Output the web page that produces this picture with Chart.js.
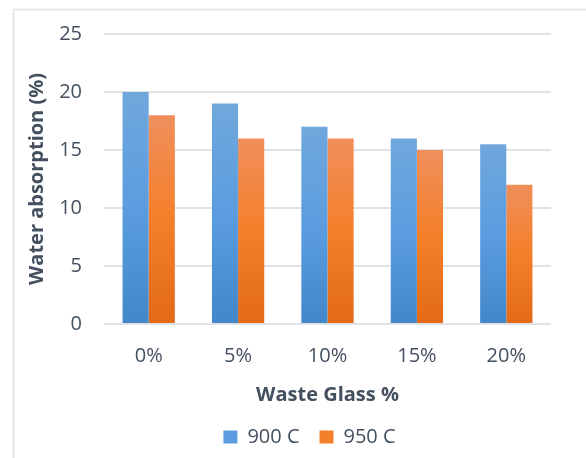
<!DOCTYPE html>
<html>
<head>
<meta charset="utf-8">
<script src="https://cdn.jsdelivr.net/npm/chart.js@4"></script>
<style>
  html, body { margin: 0; padding: 0; background: #fff; }
  #wrap { width: 586px; height: 458px; position: relative; }
</style>
</head>
<body>
<div id="wrap"><canvas id="c" width="586" height="458"></canvas></div>
<script>
const categories = ['0%', '5%', '10%', '15%', '20%'];
const series900 = [20, 19, 17, 16, 15.5];
const series950 = [18, 16, 16, 15, 12];
const seriesNames = ['900 C', '950 C'];
const yTicks = [0, 5, 10, 15, 20, 25];

const textColor = '#44505f';
const gridColor = '#dfe2e7';
const FONT = '"Open Sans", Lato, sans-serif';

const palettes = [
  ['#70a7dc', '#5b9de0', '#4287c9'],
  ['#f08f5c', '#f47f29', '#e26a18']
];

// Vertical gradient spanning each individual bar, top to baseline
function barGradient(ctx) {
  const chart = ctx.chart;
  const area = chart.chartArea;
  if (!area || ctx.type !== 'data') return palettes[ctx.datasetIndex][1];
  const ys = chart.scales.y;
  const top = ys.getPixelForValue(ctx.raw);
  const bottom = ys.getPixelForValue(0);
  const p = palettes[ctx.datasetIndex];
  const g = chart.ctx.createLinearGradient(0, top, 0, bottom);
  g.addColorStop(0, p[0]);
  g.addColorStop(0.5, p[1]);
  g.addColorStop(1, p[2]);
  return g;
}

// Light frame around the whole chart, running off the right and bottom edges
const framePlugin = {
  id: 'frame',
  beforeDraw(chart) {
    const c = chart.ctx;
    c.save();
    c.fillStyle = '#ffffff';
    c.fillRect(0, 0, chart.width, chart.height);
    c.strokeStyle = '#dde1e6';
    c.lineWidth = 1.5;
    c.strokeRect(13.5, 9.5, 600, 480);
    c.restore();
  }
};

// Centre the legend under the frame rather than under the padded layout box
const legendShift = {
  id: 'legendShift',
  afterLayout(chart) {
    if (chart.legend) {
      chart.legend.left += 25;
      chart.legend.right += 25;
    }
  }
};

new Chart(document.getElementById('c'), {
  type: 'bar',
  data: {
    labels: categories,
    datasets: [
      { label: seriesNames[0], data: series900, backgroundColor: barGradient },
      { label: seriesNames[1], data: series950, backgroundColor: barGradient }
    ]
  },
  options: {
    responsive: false,
    animation: false,
    devicePixelRatio: 1,
    layout: { padding: { left: 18, right: 35, top: 22, bottom: 1 } },
    datasets: {
      bar: { categoryPercentage: 0.585, barPercentage: 1.0, borderWidth: 0 }
    },
    scales: {
      x: {
        grid: { display: false, drawTicks: false },
        border: { display: false },
        ticks: { color: textColor, font: { family: FONT, size: 20 }, padding: 20 },
        title: {
          display: true, text: 'Waste Glass %', color: textColor,
          font: { family: FONT, size: 20, weight: 'bold' }, padding: { top: 0, bottom: 0 }
        },
        afterFit(scale) { scale.height = 83; }
      },
      y: {
        min: 0, max: 25,
        afterBuildTicks(scale) { scale.ticks = yTicks.map(v => ({ value: v })); },
        grid: { color: gridColor, lineWidth: 2, drawTicks: false },
        border: { display: false },
        ticks: { color: textColor, font: { family: FONT, size: 20 }, padding: 22 },
        title: {
          display: true, text: 'Water absorption (%)', color: textColor,
          font: { family: FONT, size: 20, weight: 'bold' }, padding: { top: 7, bottom: 0 }
        },
        afterFit(scale) { scale.width = 86; }
      }
    },
    plugins: {
      legend: {
        position: 'bottom',
        labels: {
          color: textColor, font: { family: FONT, size: 20 },
          boxWidth: 14, boxHeight: 13, padding: 20,
          generateLabels(chart) {
            return chart.data.datasets.map((d, i) => ({
              text: d.label, fillStyle: palettes[i][1], strokeStyle: palettes[i][1],
              lineWidth: 0, datasetIndex: i, fontColor: textColor
            }));
          }
        }
      },
      tooltip: { enabled: false }
    }
  },
  plugins: [framePlugin, legendShift]
});
</script>
</body>
</html>
